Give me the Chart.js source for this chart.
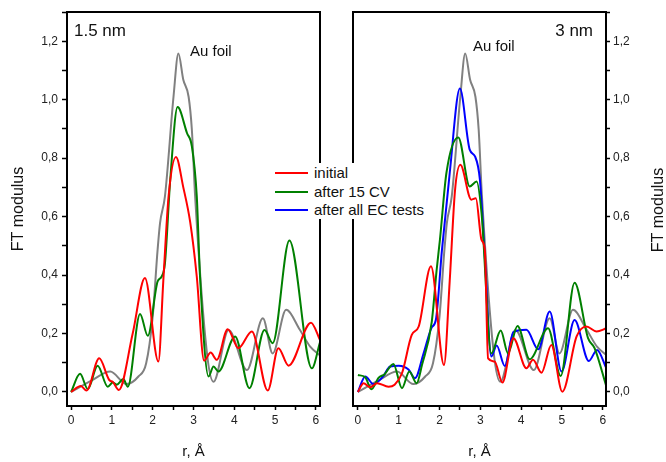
<!DOCTYPE html>
<html>
<head>
<meta charset="utf-8">
<script src="https://cdn.jsdelivr.net/npm/chart.js@4.4.0/dist/chart.umd.min.js"></script>
<style>
body { margin: 0; background: #fff; }
#wrap { position: relative; width: 666px; height: 462px; font-family: "Liberation Sans", Arial, sans-serif; color: #111; }
canvas { position: absolute; top: 0; }
#left { left: 0; }
#right { left: 333px; }
#legend { position: absolute; left: 271px; top: 163px; width: 160px; height: 56px; background: #fff; }
.row { position: absolute; left: 0; height: 18px; width: 160px; }
.row span.ln { position: absolute; left: 4px; top: 8px; width: 33px; height: 2px; }
.row span.tx { position: absolute; left: 43px; top: 0; font-size: 15px; line-height: 18px; white-space: nowrap; }
</style>
</head>
<body>
<div id="wrap">
  <canvas id="left" width="333" height="462"></canvas>
  <canvas id="right" width="333" height="462"></canvas>
  <div id="legend">
    <div class="row" style="top:1px"><span class="ln" style="background:#ff0000"></span><span class="tx">initial</span></div>
    <div class="row" style="top:20px"><span class="ln" style="background:#008000"></span><span class="tx">after 15 CV</span></div>
    <div class="row" style="top:38px"><span class="ln" style="background:#0000ff"></span><span class="tx">after all EC tests</span></div>
  </div>
</div>
<script>
Chart.defaults.font.family = '"Liberation Sans", Arial, sans-serif';
Chart.defaults.color = '#222';

// Au foil reference (same in both panels)
var rFoil = [0, 0.50, 0.96, 1.36, 1.65, 1.84, 2.00, 2.12, 2.18, 2.30, 2.51, 2.63, 2.75, 2.88, 2.96, 3.04, 3.33, 3.49, 3.86, 4.31, 4.70, 4.94, 5.27, 5.61, 5.86, 6.10];
var vFoil = [0, 0.039, 0.07, 0.027, 0.053, 0.098, 0.258, 0.486, 0.578, 0.669, 1.01, 1.158, 1.068, 1.01, 0.897, 0.669, 0.132, 0.035, 0.212, 0.075, 0.252, 0.132, 0.281, 0.212, 0.155, 0.125];

// 1.5 nm panel
var rInit15 = [0, 0.24, 0.38, 0.69, 0.94, 1.02, 1.17, 1.51, 1.81, 2.14, 2.26, 2.39, 2.57, 2.75, 2.92, 3.08, 3.26, 3.42, 3.57, 3.84, 4.10, 4.43, 4.82, 5.08, 5.33, 5.88, 6.10];
var vInit15 = [0, 0.02, 0.005, 0.115, 0.04, 0.035, 0.007, 0.20, 0.39, 0.104, 0.38, 0.67, 0.804, 0.70, 0.58, 0.395, 0.107, 0.135, 0.11, 0.215, 0.15, 0.207, 0.005, 0.15, 0.09, 0.237, 0.178];
var rCV15 = [0, 0.22, 0.41, 0.65, 0.90, 1.02, 1.12, 1.28, 1.39, 1.69, 1.88, 2.12, 2.22, 2.30, 2.43, 2.61, 2.84, 2.96, 3.08, 3.16, 3.37, 3.49, 3.61, 4.02, 4.37, 4.74, 4.94, 5.35, 5.90, 6.10];
var vCV15 = [0, 0.062, 0.01, 0.09, 0.018, 0.032, 0.025, 0.044, 0.018, 0.267, 0.192, 0.378, 0.395, 0.44, 0.726, 0.975, 0.886, 0.84, 0.67, 0.395, 0.053, 0.087, 0.07, 0.19, 0.013, 0.212, 0.167, 0.518, 0.081, 0.17];

// 3 nm panel
var rInit3 = [0, 0.14, 0.30, 0.47, 0.75, 0.90, 1.08, 1.32, 1.49, 1.79, 2.11, 2.25, 2.38, 2.51, 2.78, 2.89, 3.03, 3.11, 3.19, 3.35, 3.54, 3.81, 4.13, 4.29, 4.50, 4.74, 5.01, 5.36, 5.60, 5.85, 6.09];
var vInit3 = [0, 0.03, 0.016, 0.03, 0.018, 0.025, 0.064, 0.195, 0.224, 0.43, 0.092, 0.38, 0.69, 0.777, 0.658, 0.663, 0.52, 0.486, 0.115, 0.104, 0.032, 0.184, 0.081, 0.11, 0.066, 0.161, 0.001, 0.19, 0.224, 0.207, 0.218];
var rCV3 = [0, 0.18, 0.33, 0.51, 0.65, 0.87, 1.08, 1.26, 1.44, 1.57, 1.81, 1.93, 2.01, 2.17, 2.46, 2.74, 2.91, 3.03, 3.27, 3.50, 3.68, 3.91, 4.21, 4.66, 4.97, 5.31, 5.64, 5.80, 6.09];
var vCV3 = [0.058, 0.05, 0.009, 0.049, 0.06, 0.096, 0.013, 0.07, 0.03, 0.092, 0.24, 0.418, 0.52, 0.75, 0.871, 0.703, 0.72, 0.612, 0.132, 0.21, 0.132, 0.226, 0.112, 0.218, 0.055, 0.374, 0.184, 0.15, 0.018];
var rEC3 = [0, 0.18, 0.38, 0.60, 0.79, 1.00, 1.24, 1.40, 1.61, 1.81, 1.91, 2.06, 2.25, 2.50, 2.74, 2.87, 2.99, 3.11, 3.27, 3.40, 3.60, 3.81, 4.13, 4.42, 4.70, 4.99, 5.31, 5.66, 5.86, 6.09];
var vEC3 = [0, 0.053, 0.027, 0.05, 0.087, 0.09, 0.077, 0.047, 0.132, 0.221, 0.246, 0.486, 0.749, 1.038, 0.829, 0.806, 0.726, 0.463, 0.121, 0.159, 0.089, 0.205, 0.213, 0.146, 0.275, 0.07, 0.246, 0.106, 0.144, 0.081];

function pts(xs, ys) {
  return xs.map(function (x, i) { return { x: x, y: ys[i] }; });
}
function line(label, xs, ys, color) {
  return { label: label, data: pts(xs, ys), borderColor: color, backgroundColor: color,
    borderWidth: 2, pointRadius: 0, cubicInterpolationMode: 'monotone', fill: false };
}

// box around the plot area + free text
var extras = {
  id: 'extras',
  afterDatasetsDraw: function (chart, args, opts) {
    var a = chart.chartArea, c = chart.ctx;
    c.save();
    c.strokeStyle = '#000';
    c.lineWidth = 2;
    c.strokeRect(a.left, a.top, a.right - a.left, a.bottom - a.top);
    (opts.notes || []).forEach(function (n) {
      c.save();
      c.fillStyle = '#111';
      c.font = n.size + 'px "Liberation Sans", Arial, sans-serif';
      c.textAlign = n.align || 'left';
      c.textBaseline = 'middle';
      c.translate(n.x, n.y);
      if (n.rot) c.rotate(-Math.PI / 2);
      c.fillText(n.text, 0, 0);
      c.restore();
    });
    c.restore();
  }
};

function scales(side, xmin, xmax) {
  return {
    x: {
      type: 'linear', min: xmin, max: xmax,
      ticks: { stepSize: 0.5, autoSkip: false, maxRotation: 0, includeBounds: false,
        font: { size: 12 }, color: '#222', padding: 3,
        callback: function (v) { return Number.isInteger(v) ? String(v) : ''; } },
      grid: { drawOnChartArea: false, tickLength: 4, tickColor: '#000', tickWidth: 1.5 },
      border: { color: '#000', width: 2 },
      title: { display: true, text: 'r, Å', font: { size: 15 }, color: '#111', padding: { top: 0, bottom: 1 } },
      afterFit: function (s) { s.height = 56; }
    },
    y: {
      position: side, min: -0.048, max: 1.30,
      ticks: { stepSize: 0.1, includeBounds: false, font: { size: 12 }, color: '#222',
        padding: side === 'left' ? 4 : 3,
        callback: function (v) { return Math.round(v * 10) % 2 === 0 ? v.toFixed(1).replace('.', ',') : ''; } },
      grid: { drawOnChartArea: false, tickLength: side === 'left' ? 5 : 4, tickColor: '#000', tickWidth: 1.5 },
      border: { color: '#000', width: 2 },
      title: { display: side === 'left', text: 'FT modulus', font: { size: 16 }, color: '#111', padding: { top: 9, bottom: 0 } },
      afterFit: function (s) { s.width = side === 'left' ? 67 : 60; }
    }
  };
}

var common = { responsive: false, animation: false, devicePixelRatio: 1 };

new Chart(document.getElementById('left'), {
  type: 'line',
  data: { datasets: [
    line('initial', rInit15, vInit15, '#ff0000'),
    line('after 15 CV', rCV15, vCV15, '#008000'),
    line('Au foil', rFoil, vFoil, '#808080')
  ] },
  options: Object.assign({}, common, {
    layout: { padding: { top: 12, right: 13, left: 0, bottom: 0 } },
    scales: scales('left', -0.1, 6.1),
    plugins: {
      legend: { display: false }, tooltip: { enabled: false },
      extras: { notes: [
        { text: '1.5 nm', x: 74, y: 31, size: 17 },
        { text: 'Au foil', x: 190, y: 52, size: 15 }
      ] }
    }
  }),
  plugins: [extras]
});

new Chart(document.getElementById('right'), {
  type: 'line',
  data: { datasets: [
    line('initial', rInit3, vInit3, '#ff0000'),
    line('after 15 CV', rCV3, vCV3, '#008000'),
    line('after all EC tests', rEC3, vEC3, '#0000ff'),
    line('Au foil', rFoil, vFoil, '#808080')
  ] },
  options: Object.assign({}, common, {
    layout: { padding: { top: 12, right: 0, left: 20, bottom: 0 } },
    scales: scales('right', -0.12, 6.08),
    plugins: {
      legend: { display: false }, tooltip: { enabled: false },
      extras: { notes: [
        { text: '3 nm', x: 260, y: 31, size: 17, align: 'right' },
        { text: 'Au foil', x: 140, y: 47, size: 15 },
        { text: 'FT modulus', x: 326, y: 210, size: 16, align: 'center', rot: true }
      ] }
    }
  }),
  plugins: [extras]
});
</script>
</body>
</html>
